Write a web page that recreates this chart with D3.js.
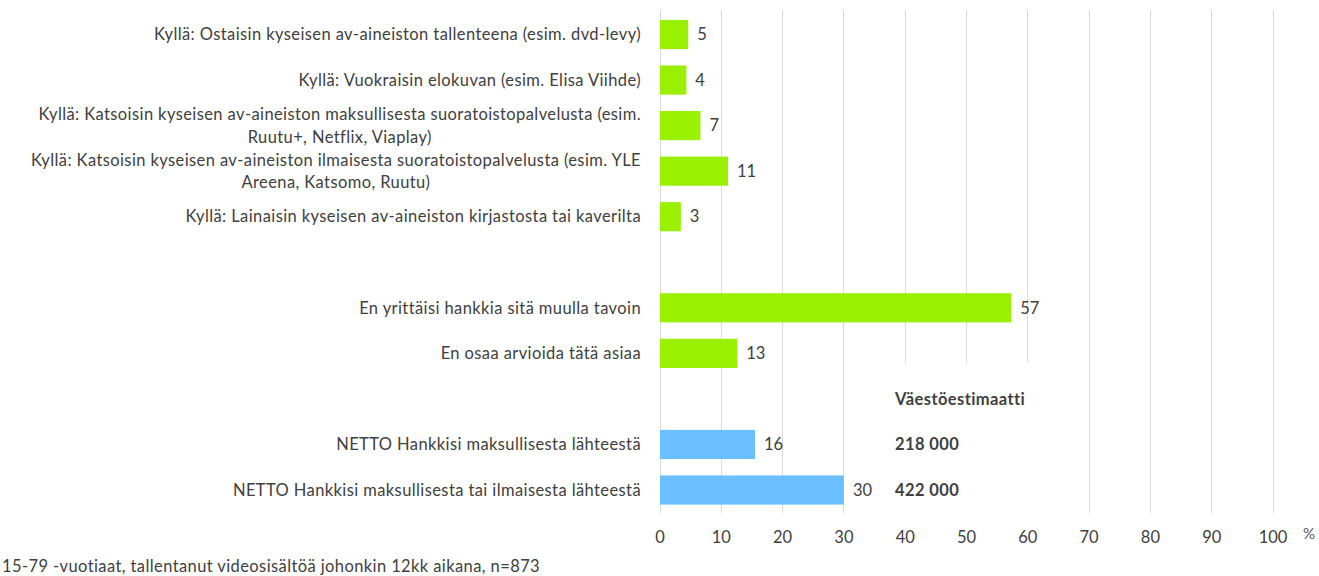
<!DOCTYPE html>
<html><head><meta charset="utf-8">
<script src="https://cdn.jsdelivr.net/npm/d3@7"></script>
<style>
html,body{margin:0;padding:0;background:#fff;}
svg{display:block;font-family:Lato, "Open Sans", sans-serif;}
</style></head>
<body>
<svg id="chart" width="1319" height="576"></svg>
<script>
// ---- data ----
const categoryLines = [
  ["Kyllä: Ostaisin kyseisen av-aineiston tallenteena (esim. dvd-levy)"],
  ["Kyllä: Vuokraisin elokuvan (esim. Elisa Viihde)"],
  ["Kyllä: Katsoisin kyseisen av-aineiston maksullisesta suoratoistopalvelusta (esim.", "Ruutu+, Netflix, Viaplay)"],
  ["Kyllä: Katsoisin kyseisen av-aineiston ilmaisesta suoratoistopalvelusta (esim. YLE", "Areena, Katsomo, Ruutu)"],
  ["Kyllä: Lainaisin kyseisen av-aineiston kirjastosta tai kaverilta"],
  [],
  ["En yrittäisi hankkia sitä muulla tavoin"],
  ["En osaa arvioida tätä asiaa"],
  [],
  ["NETTO Hankkisi maksullisesta lähteestä"],
  ["NETTO Hankkisi maksullisesta tai ilmaisesta lähteestä"]
];
const values = [4.6, 4.3, 6.6, 11.1, 3.4, null, 57.3, 12.6, null, 15.5, 30.0];
const valueLabels = ["5", "4", "7", "11", "3", "", "57", "13", "", "16", "30"];
const groups = ["kylla", "kylla", "kylla", "kylla", "kylla", "", "kylla", "kylla", "", "netto", "netto"];
const estimateLines = ["", "", "", "", "", "", "", "", "Väestöestimaatti", "218 000", "422 000"];
const xTicks = [0, 10, 20, 30, 40, 50, 60, 70, 80, 90, 100];
const footnote = "15-79 -vuotiaat, tallentanut videosisältöä johonkin 12kk aikana, n=873";
const unitLabel = "%";

// ---- layout ----
const svg = d3.select("#chart");
const plot = {left: 660, right: 1273, top: 11.7, bottom: 512.8};
const color = d3.scaleOrdinal().domain(["kylla", "netto"]).range(["#99f000", "#6bbfff"]);
const textColor = "#404040";
const labelFont = 16.5, labelSpacing = "0.4px";

const x = d3.scaleLinear().domain([0, 100]).range([plot.left, plot.right]);
const y = d3.scaleBand().domain(d3.range(values.length))
  .range([plot.top, plot.bottom]).paddingInner(0.36).paddingOuter(0.18);

// gridlines
svg.append("g").selectAll("line").data(xTicks).join("line")
  .attr("x1", d => x(d)).attr("x2", d => x(d))
  .attr("y1", plot.top - 2).attr("y2", plot.bottom)
  .attr("stroke", "#d9d9d9").attr("stroke-width", 1)
  .attr("shape-rendering", "crispEdges");

// bars
const rows = values.map((v, i) => ({i, v, g: groups[i], lab: valueLabels[i]})).filter(d => d.v != null);
svg.append("g").selectAll("rect").data(rows).join("rect")
  .attr("x", x(0)).attr("y", d => y(d.i))
  .attr("width", d => x(d.v) - x(0)).attr("height", y.bandwidth())
  .attr("fill", d => color(d.g));

// value labels
svg.append("g").selectAll("text").data(rows).join("text")
  .attr("x", d => x(d.v) + 9).attr("y", d => y(d.i) + y.bandwidth() / 2)
  .attr("dy", "0.35em").attr("font-size", 16.5).attr("fill", textColor)
  .text(d => d.lab);

// category labels
const lineH = 22.5;
const catG = svg.append("g");
const labelRight = 641;
categoryLines.forEach((lines, i) => {
  if (!lines.length) return;
  const cy = y(i) + y.bandwidth() / 2;
  const t = catG.append("text").attr("font-size", labelFont)
    .attr("letter-spacing", labelSpacing).attr("fill", textColor);
  if (lines.length === 1) {
    t.attr("x", labelRight).attr("y", cy).attr("dy", "0.35em").attr("text-anchor", "end").text(lines[0]);
  } else {
    t.attr("text-anchor", "middle");
    const spans = lines.map((ln, k) => t.append("tspan").attr("x", 0)
      .attr("y", cy + (k - (lines.length - 1) / 2) * lineH)
      .attr("dy", "0.35em").text(ln));
    const w = d3.max(spans, s => s.node().getComputedTextLength());
    spans.forEach(s => s.attr("x", labelRight - w / 2));
  }
});

// estimate box (covers gridlines)
svg.append("rect").attr("x", 876).attr("y", 363).attr("width", 188).attr("height", 160).attr("fill", "#fff");
svg.append("g").selectAll("text").data(estimateLines.map((t, i) => ({t, i})).filter(d => d.t)).join("text")
  .attr("x", 895).attr("y", d => y(d.i) + y.bandwidth() / 2)
  .attr("dy", "0.35em").attr("font-size", 16.5).attr("letter-spacing", "0.4px")
  .attr("font-weight", "bold").attr("fill", textColor)
  .text(d => d.t);

// x axis tick labels
svg.append("g").selectAll("text").data(xTicks).join("text")
  .attr("x", d => x(d)).attr("y", 537.5).attr("dy", "0.35em")
  .attr("text-anchor", "middle").attr("font-size", 16.5).attr("fill", textColor)
  .text(d => d);

svg.append("text").attr("x", 1303).attr("y", 534).attr("dy", "0.35em")
  .attr("font-size", 15).attr("fill", "#595959").text(unitLabel);

svg.append("text").attr("x", 2).attr("y", 566).attr("dy", "0.35em")
  .attr("font-size", labelFont).attr("letter-spacing", labelSpacing)
  .attr("fill", textColor).text(footnote);
</script>
</body></html>
